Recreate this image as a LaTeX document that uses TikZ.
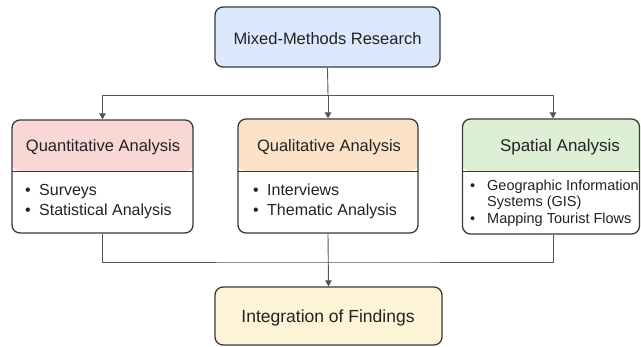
\documentclass[tikz,border=0pt]{standalone}
\usepackage{fontspec}
\setmainfont{Liberation Sans}
\usetikzlibrary{arrows.meta}
\definecolor{topfill}{HTML}{DCE8FB}
\definecolor{quanfill}{HTML}{F8D7D5}
\definecolor{qualfill}{HTML}{FCE3C8}
\definecolor{spatfill}{HTML}{DDF0D5}
\definecolor{botfill}{HTML}{FDF3D6}
\definecolor{bordc}{HTML}{3A3A3A}
\definecolor{linec}{HTML}{555555}
\definecolor{txtc}{HTML}{222222}
\newcommand{\bul}[2]{\makebox[#1][l]{\textbullet}#2}
\tikzset{
  box/.style={draw=bordc, line width=1.3pt, rounded corners=8pt, inner sep=0pt},
  hbox/.style n args={2}{box, path picture={
     \fill[#1] (path picture bounding box.north west) rectangle ([yshift=-#2]path picture bounding box.north east);
     \draw[bordc, line width=0.8pt] ([yshift=-#2]path picture bounding box.north west) -- ([yshift=-#2]path picture bounding box.north east);}},
  conn/.style={draw=linec, line width=0.9pt},
  arr/.style={conn, -{Triangle[length=6pt,width=6.5pt]}},
  ttl/.style={text=txtc, inner sep=0pt, anchor=base},
  item/.style={text=txtc, inner sep=0pt, anchor=base west},
}
\begin{document}
\begin{tikzpicture}[x=1pt,y=-1pt]
\useasboundingbox[fill=white] (0,0) rectangle (641,346);
% boxes
\node[box, fill=topfill, minimum width=225pt, minimum height=60pt] (top) at (327.5,37) {};
\node[box, fill=white, hbox={quanfill}{51pt}, minimum width=181pt, minimum height=113pt] (quan) at (102.5,176.5) {};
\node[box, fill=white, hbox={qualfill}{52pt}, minimum width=180pt, minimum height=114pt] (qual) at (328,176) {};
\node[box, fill=white, hbox={spatfill}{52pt}, minimum width=177pt, minimum height=115pt] (spat) at (551,176.5) {};
\node[box, fill=botfill, minimum width=227pt, minimum height=58pt] (bot) at (328.5,316) {};
% texts
\node[ttl, font=\fontsize{16.5}{19}\selectfont] (toptxt) at (327.5,44) {Mixed-Methods Research};
\node[ttl, font=\fontsize{16.5}{19}\selectfont] (quanh) at (103,151) {Quantitative Analysis};
\node[ttl, font=\fontsize{16.5}{19}\selectfont] (qualh) at (329,151) {Qualitative Analysis};
\node[ttl, font=\fontsize{17}{19}\selectfont] (spath) at (560,151) {Spatial Analysis};
\node[ttl, font=\fontsize{17.5}{20}\selectfont] (bottxt) at (328,322.5) {Integration of Findings};
\node[item, font=\fontsize{16}{19}\selectfont] (q1) at (25,195) {\bul{14pt}{Surveys}};
\node[item, font=\fontsize{16}{19}\selectfont] (q2) at (25,215) {\bul{14pt}{Statistical Analysis}};
\node[item, font=\fontsize{16}{19}\selectfont] (l1) at (253,195) {\bul{14pt}{Interviews}};
\node[item, font=\fontsize{16}{19}\selectfont] (l2) at (253,215) {\bul{14pt}{Thematic Analysis}};
\node[item, font=\fontsize{14.5}{16}\selectfont] (s1) at (470,190.2) {\bul{17pt}{Geographic Information}};
\node[item, font=\fontsize{14.5}{16}\selectfont] (s2) at (487,206.7) {Systems (GIS)};
\node[item, font=\fontsize{14.5}{16}\selectfont] (s3) at (470,223.2) {\bul{17pt}{Mapping Tourist Flows}};
% connectors
\coordinate (split) at (328,95);
\coordinate (join) at (328,262);
\draw[conn] (top.south) -- (split);
\draw[arr] (split) -| (quan.north);
\draw[arr] (split) -- (qual.north);
\draw[arr] (split) -| ([xshift=2pt]spat.north);
\draw[conn] (quan.south) |- (join) -| ([xshift=2pt]spat.south);
\draw[arr] (qual.south) -- (bot.north);
\end{tikzpicture}
\end{document}
